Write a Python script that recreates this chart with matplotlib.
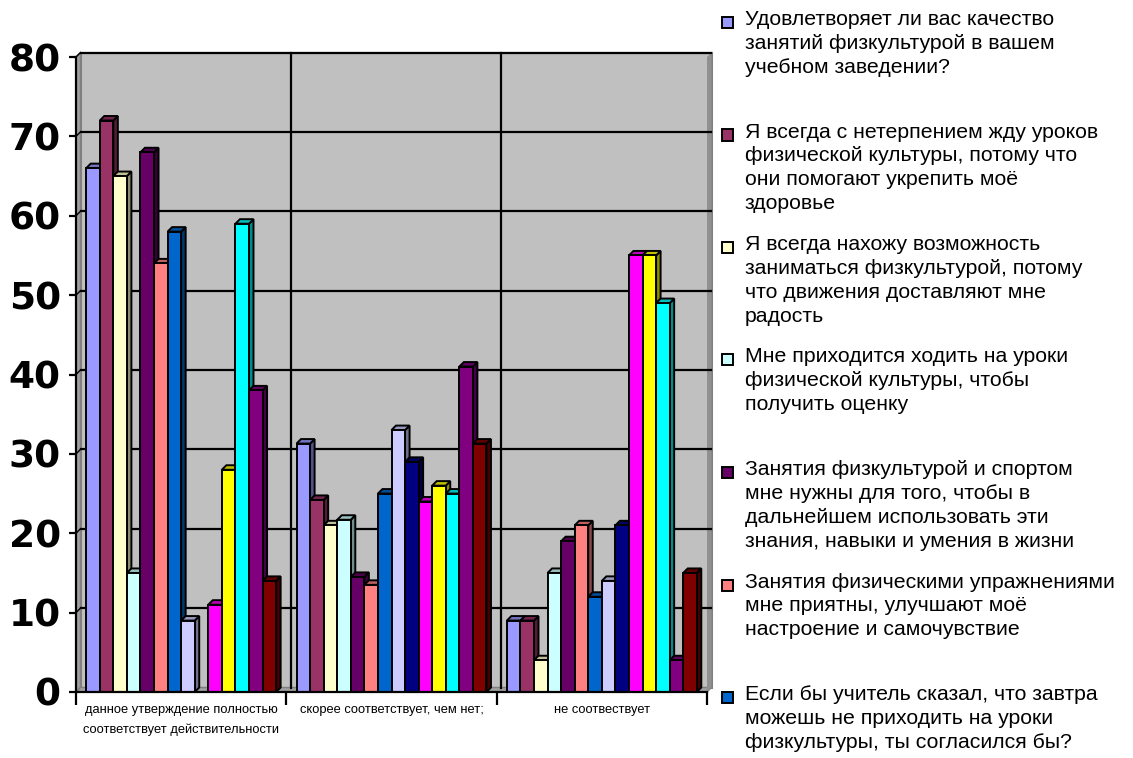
import matplotlib
matplotlib.use("Agg")
import matplotlib.pyplot as plt
from matplotlib.patches import Polygon, Rectangle
import numpy as np

categories = ["данное утверждение полностью\nсоответствует действительности",
              "скорее соответствует, чем нет;",
              "не соотвествует"]

colors = ['#9999FF', '#993366', '#FFFFCC', '#CCFFFF', '#660066', '#FF8080', '#0066CC',
          '#CCCCFF', '#000080', '#FF00FF', '#FFFF00', '#00FFFF', '#800080', '#800000']

# one list per series: values for the 3 categories
s1 = [66, 31.3, 9]
s2 = [72, 24.2, 9]
s3 = [65, 21, 4]
s4 = [15, 21.7, 15]
s5 = [68, 14.5, 19]
s6 = [54, 13.5, 21]
s7 = [58, 25, 12]
s8 = [9, 33, 14]
s9 = [0, 29, 21]
s10 = [11, 24, 55]
s11 = [28, 26, 55]
s12 = [59, 25, 49]
s13 = [38, 41, 4]
s14 = [14, 31.3, 15]
series = [s1, s2, s3, s4, s5, s6, s7, s8, s9, s10, s11, s12, s13, s14]

legend_labels = [
    "Удовлетворяет ли вас качество\nзанятий физкультурой в вашем\nучебном заведении?",
    "Я всегда с нетерпением жду уроков\nфизической культуры, потому что\nони помогают укрепить моё\nздоровье",
    "Я всегда нахожу возможность\nзаниматься физкультурой, потому\nчто движения доставляют мне\nрадость",
    "Мне приходится ходить на уроки\nфизической культуры, чтобы\nполучить оценку",
    "Занятия физкультурой и спортом\nмне нужны для того, чтобы в\nдальнейшем использовать эти\nзнания, навыки и умения в жизни",
    "Занятия физическими упражнениями\nмне приятны, улучшают моё\nнастроение и самочувствие",
    "Если бы учитель сказал, что завтра\nможешь не приходить на уроки\nфизкультуры, ты согласился бы?",
]

W, H = 1133, 758
fig = plt.figure(figsize=(W / 100, H / 100), dpi=100)
x0, x1, ytop, ybot = 76, 707, 57, 692
ax = fig.add_axes([x0 / W, 1 - ybot / H, (x1 - x0) / W, (ybot - ytop) / H])
ax.set_xlim(0, 3)
ax.set_ylim(0, 80)
ax.patch.set_visible(False)

# 3d depth in data units
dx = 4.5 / ((x1 - x0) / 3)
dy = 4.5 / ((ybot - ytop) / 80)

def darker(c, f):
    r, g, b = matplotlib.colors.to_rgb(c)
    return (r * f, g * f, b * f)

# back wall, side wall, floor
ax.add_patch(Rectangle((dx, dy), 3, 80, facecolor='#C0C0C0', edgecolor='#808080',
                       lw=1.5, clip_on=False, zorder=0))
ax.add_patch(Polygon([(0, 0), (dx, dy), (dx, 80 + dy), (0, 80)], closed=True,
                     facecolor='#A0A0A0', edgecolor='#808080', lw=1, clip_on=False, zorder=0))
ax.add_patch(Polygon([(0, 0), (3, 0), (3 + dx, dy), (dx, dy)], closed=True,
                     facecolor='#A0A0A0', edgecolor='#808080', lw=1, clip_on=False, zorder=0))
ax.add_patch(Polygon([(3, 0), (3 + dx, dy), (3 + dx, 80 + dy), (3, 80)], closed=True,
                     facecolor='#909090', edgecolor='none', clip_on=False, zorder=0))
for v in range(10, 81, 10):
    ax.plot([dx, 3 + dx], [v + dy, v + dy], color='black', lw=1.6, zorder=0.5, clip_on=False)
    ax.plot([0, dx], [v, v + dy], color='black', lw=1.0, zorder=0.5, clip_on=False)
for c in [1, 2]:
    ax.plot([c + dx, c + dx], [dy, 80 + dy], color='black', lw=1.6, zorder=0.5, clip_on=False)

# bars
n = len(series)
bw = 0.0645
start = (1 - n * bw) / 2
z = 1
for ci in range(3):
    for si in range(n):
        v = series[si][ci]
        col = colors[si]
        xl = ci + start + si * bw
        xr = xl + bw
        if v <= 0:
            continue
        ax.add_patch(Polygon([(xr, 0), (xr + dx, dy), (xr + dx, v + dy), (xr, v)], closed=True,
                             facecolor=darker(col, 0.55), edgecolor='black', lw=1.4, zorder=z))
        ax.add_patch(Polygon([(xl, v), (xl + dx, v + dy), (xr + dx, v + dy), (xr, v)], closed=True,
                             facecolor=darker(col, 0.75), edgecolor='black', lw=1.4, zorder=z))
        ax.add_patch(Rectangle((xl, 0), bw, v, facecolor=col, edgecolor='black',
                               lw=1.4, zorder=z + 0.5))
        z += 1

for s in ['top', 'right']:
    ax.spines[s].set_visible(False)
for s in ['left', 'bottom']:
    ax.spines[s].set_linewidth(1.6)
    ax.spines[s].set_zorder(200)

ax.set_yticks(range(0, 81, 10))
ax.set_yticklabels([str(v) for v in range(0, 81, 10)], fontsize=27,
                   fontweight='bold', family='DejaVu Sans')
ax.tick_params(axis='y', length=5, width=1.6, pad=6)
ax.set_xticks([0.5, 1.5, 2.5])
ax.set_xticklabels(categories, fontsize=9.3, family='Liberation Sans',
                   linespacing=1.75, va='top')
ax.tick_params(axis='x', length=0, pad=9)
ax.set_xticks([0, 1, 2, 3], minor=True)
ax.tick_params(axis='x', which='minor', length=9, width=1.6)

# legend drawn by hand (only the visible entries)
for k, lab in enumerate(legend_labels):
    yc = 22 + k * 112.5
    fig.patches.append(Rectangle((722 / W, 1 - (yc + 6) / H), 11 / W, 11 / H,
                                 facecolor=colors[k], edgecolor='black', lw=1.4,
                                 transform=fig.transFigure, figure=fig))
    fig.text(745 / W, 1 - (yc - 12) / H, lab, fontsize=15.3, family='Liberation Sans',
             va='top', ha='left', linespacing=1.33)

fig.savefig("out.png", dpi=100)
